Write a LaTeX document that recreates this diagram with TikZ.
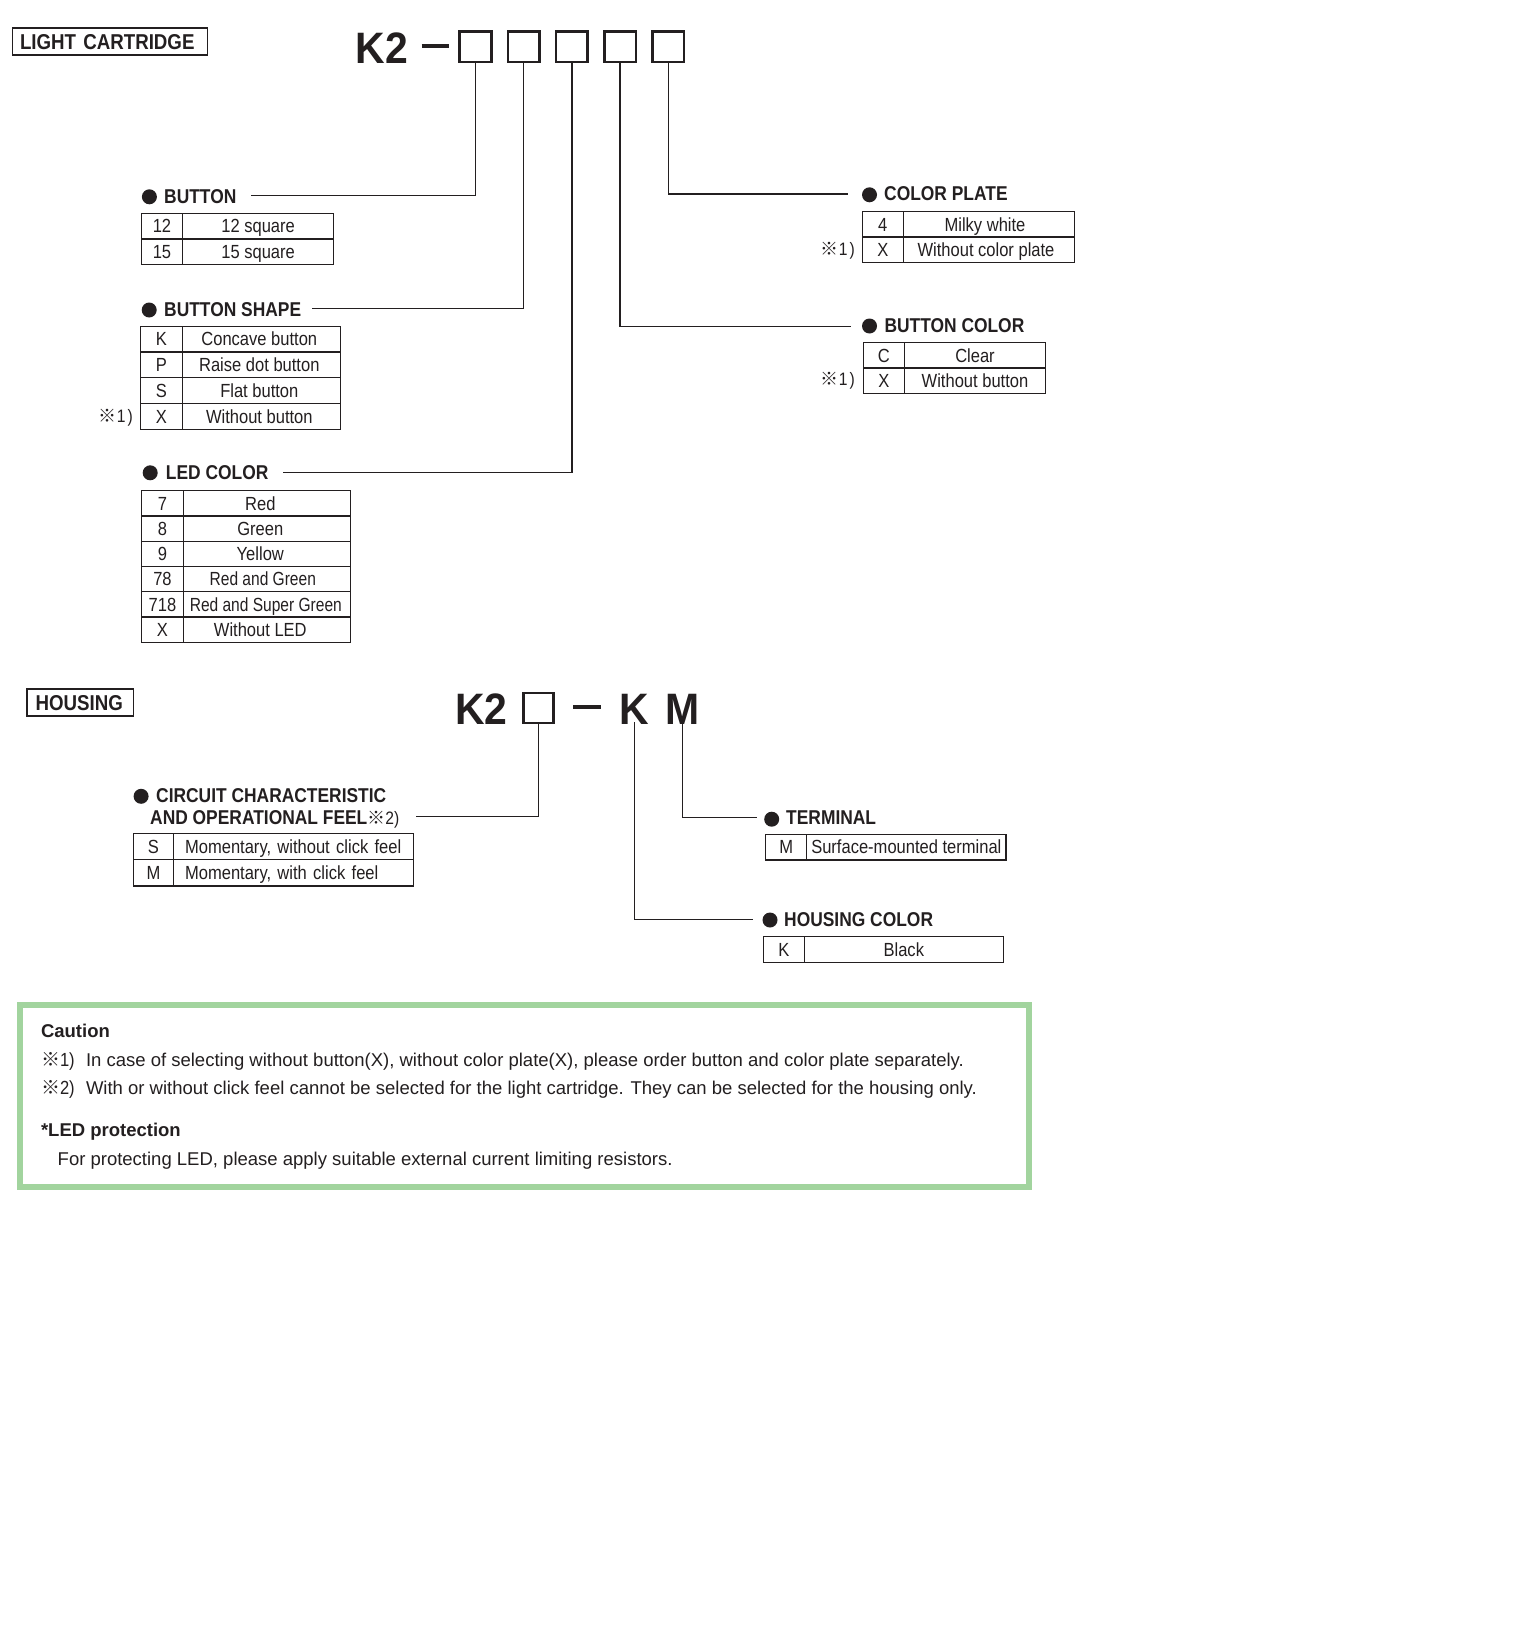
\documentclass[tikz,border=0pt]{standalone}
\usepackage{fontspec}
\setmainfont{Liberation Sans}[FakeStretch=0.87]
\newfontfamily\plainsans{Liberation Sans}
\newfontfamily\bigsans{Liberation Sans}[FakeStretch=0.93]
\newfontfamily\cjk{Noto Sans CJK JP}
\definecolor{ink}{RGB}{35,31,32}
\definecolor{cgreen}{RGB}{162,212,158}
\newcommand\trow[8]{%
  \node[tcell, minimum width=#3, minimum height=#5, anchor=north west] (#1c) at #2 {#6};
  \node[tcell, minimum width=#4, minimum height=#5, anchor=north west, #8] (#1d) at (#1c.north east) {#7};
}
\begin{document}
\begin{tikzpicture}[x=1pt,y=-1pt,
  tcell/.style={draw=ink, line width=1.3pt, outer sep=0pt, inner sep=0pt, text=ink,
    text height=13.6pt, text depth=0pt, font=\fontsize{19}{22}\selectfont},
  head/.style={anchor=base west, inner sep=0pt, text=ink, font=\fontsize{20}{24}\selectfont\bfseries},
  big/.style={anchor=base west, inner sep=0pt, text=ink, font=\bigsans\fontsize{44}{50}\selectfont\bfseries},
  dot/.style={circle, fill=ink, minimum size=15pt, inner sep=0pt},
  lead/.style={draw=ink, line width=1.3pt},
  pbox/.style={draw=ink, line width=2.6pt, minimum width=31.5pt, minimum height=30.5pt, inner sep=0pt},
  refmark/.style={anchor=base east, inner sep=0pt, text=ink, font=\fontsize{18}{22}\selectfont},
  ctext/.style={anchor=base west, inner sep=0pt, text=ink, font=\plainsans\fontsize{18.5}{22}\selectfont},
  titlebox/.style={draw=ink, line width=1.5pt, anchor=north west, text=ink, align=left,
    minimum height=27pt, text height=15pt, text depth=0pt, inner ysep=0pt,
    font=\fontsize{21.5}{24}\selectfont\bfseries}
]
\fill[white] (0,0) rectangle (1526,1640);
\useasboundingbox (0,0) rectangle (1526,1640);

% ================= LIGHT CARTRIDGE =================
\node[titlebox, text width=179.5pt, inner xsep=7.8pt] (lc) at (11.5,27.3) {LIGHT CARTRIDGE};

\node[big] (k2a) at (355.6,63.5) {K2};
\draw[ink, line width=4pt] (421.5,46.5) -- (449,46.5);
\foreach \i/\xx in {1/475.5,2/523.7,3/571.9,4/620.1,5/668.3}
  \node[pbox] (p\i) at (\xx,46.8) {};

% BUTTON
\node[dot] (d1) at (149.4,196.8) {};
\node[head] (h1) at (164,204) {BUTTON};
\coordinate (e1) at (251,195.6);
\trow{bt1}{(141.3,213.3)}{41.4}{150.8}{25.6}{12}{12 square}{}
\trow{bt2}{(bt1c.south west)}{41.4}{150.8}{25.6}{15}{15 square}{}

% BUTTON SHAPE
\node[dot] (d2) at (149.2,310) {};
\node[head] (h2) at (164,316.7) {BUTTON SHAPE};
\coordinate (e2) at (312,308.5);
\trow{bs1}{(140.3,326.3)}{42}{158}{25.75}{K}{Concave button\hspace*{4pt}}{}
\trow{bs2}{(bs1c.south west)}{42}{158}{25.75}{P}{Raise dot button\hspace*{4pt}}{}
\trow{bs3}{(bs2c.south west)}{42}{158}{25.75}{S}{Flat button\hspace*{4pt}}{}
\trow{bs4}{(bs3c.south west)}{42}{158}{25.75}{X}{Without button\hspace*{4pt}}{}
\node[refmark] (m1) at (133,422.5) {{\cjk ※}1\hspace{2pt})};

% LED COLOR
\node[dot] (d3) at (150.2,472.8) {};
\node[head] (h3) at (165.7,479.3) {LED COLOR};
\coordinate (e3) at (283,472.3);
\trow{lc1}{(141.7,490.7)}{41.6}{167}{25.27}{7}{Red\hspace*{13pt}}{}
\trow{lc2}{(lc1c.south west)}{41.6}{167}{25.27}{8}{Green\hspace*{13pt}}{}
\trow{lc3}{(lc2c.south west)}{41.6}{167}{25.27}{9}{Yellow\hspace*{13pt}}{}
\trow{lc4}{(lc3c.south west)}{41.6}{167}{25.27}{78}{\scalebox{0.94}[1]{Red and Green}\hspace*{8pt}}{}
\trow{lc5}{(lc4c.south west)}{41.6}{167}{25.27}{718}{\scalebox{0.94}[1]{Red and Super Green}\hspace*{2pt}}{}
\trow{lc6}{(lc5c.south west)}{41.6}{167}{25.27}{X}{Without LED\hspace*{13pt}}{}

% COLOR PLATE
\node[dot] (d4) at (869.5,194.8) {};
\node[head] (h4) at (884,200.7) {COLOR PLATE};
\coordinate (e4) at (848.3,194);
\trow{cp1}{(862.3,211.7)}{41}{171.4}{25.3}{4}{Milky white\hspace*{8pt}}{}
\trow{cp2}{(cp1c.south west)}{41}{171.4}{25.3}{X}{Without color plate\hspace*{6pt}}{}
\node[refmark] (m2) at (855,255.5) {{\cjk ※}1\hspace{2pt})};

% BUTTON COLOR
\node[dot] (d5) at (869.5,326) {};
\node[head] (h5) at (884.3,332.7) {BUTTON COLOR};
\coordinate (e5) at (851,326.5);
\trow{bc1}{(863.3,342.7)}{41}{141.4}{25.3}{C}{Clear}{}
\trow{bc2}{(bc1c.south west)}{41}{141.4}{25.3}{X}{Without button}{}
\node[refmark] (m3) at (855,385.5) {{\cjk ※}1\hspace{2pt})};

% leads
\draw[lead] (p1.south) |- (e1);
\draw[lead] (p2.south) |- (e2);
\draw[lead] (p3.south) |- (e3);
\draw[lead] (p4.south) |- (e5);
\draw[lead] (p5.south) |- (e4);

% ================= HOUSING =================
\node[titlebox, text width=89pt, inner xsep=8.7pt] (hs) at (26.2,688.3) {HOUSING};

\node[big] (k2b) at (455,724) {K2};
\node[pbox, minimum width=30pt, minimum height=30pt] (hb) at (538.5,707.8) {};
\draw[ink, line width=4pt] (573,707) -- (600.5,707);
\node[big] (hk) at (619.5,724) {K};
\node[big] (hm) at (665,724) {M};

% CIRCUIT
\node[dot] (d6) at (141.1,796.3) {};
\node[head] (h6) at (156,802.5) {CIRCUIT CHARACTERISTIC};
\node[head] (h6b) at (150,824) {AND OPERATIONAL FEEL{\mdseries\fontsize{18}{22}\selectfont{\cjk ※}2)}};
\coordinate (e6) at (415.5,816.7);
\trow{cc1}{(133.2,833.4)}{40.4}{239.6}{26.3}{S}{Momentary, without click feel}{text width=216.6pt, align=left, inner xsep=11.5pt}
\trow{cc2}{(cc1c.south west)}{40.4}{239.6}{26.3}{M}{Momentary, with click feel}{text width=216.6pt, align=left, inner xsep=11.5pt}

% TERMINAL
\node[dot] (d7) at (771.7,819.2) {};
\node[head] (h7) at (786,824) {TERMINAL};
\coordinate (e7) at (756.7,817.7);
\trow{tm1}{(765.7,834.3)}{41}{199.3}{25.7}{M}{Surface-mounted terminal}{}

% HOUSING COLOR
\node[dot] (d8) at (770,920) {};
\node[head] (h8) at (784,926.7) {HOUSING COLOR};
\coordinate (e8) at (753.3,919.4);
\trow{hc1}{(763.3,936.7)}{41}{199}{26}{K}{Black}{}

\draw[lead] (hb.south) |- (e6);
\draw[lead] ([yshift=2pt]hk.south) |- (e8);
\draw[lead] ([yshift=2pt]hm.south) |- (e7);

% ================= CAUTION =================
\draw[cgreen, line width=6pt] (20.3,1005.3) rectangle (1029.3,1187);
\node[ctext, font=\plainsans\fontsize{18.5}{22}\selectfont\bfseries] (cau) at (40.8,1037.5) {Caution};
\node[ctext, font=\fontsize{19}{22}\selectfont] (n1m) at (40.8,1066.5) {{\cjk ※}1)};
\node[ctext] (n1t) at (85.8,1066.5) {In case of selecting without button(X), without color plate(X), please order button and color plate separately.};
\node[ctext, font=\fontsize{19}{22}\selectfont] (n2m) at (40.8,1094.7) {{\cjk ※}2)};
\node[ctext] (n2t) at (85.8,1094.7) {With or without click feel cannot be selected for the light cartridge. They can be selected for the housing only.};
\node[ctext, font=\plainsans\fontsize{18.5}{22}\selectfont\bfseries] (ledp) at (40.8,1136.6) {*LED protection};
\node[ctext] (ledt) at (57.5,1165.9) {For protecting LED, please apply suitable external current limiting resistors.};
\end{tikzpicture}
\end{document}
